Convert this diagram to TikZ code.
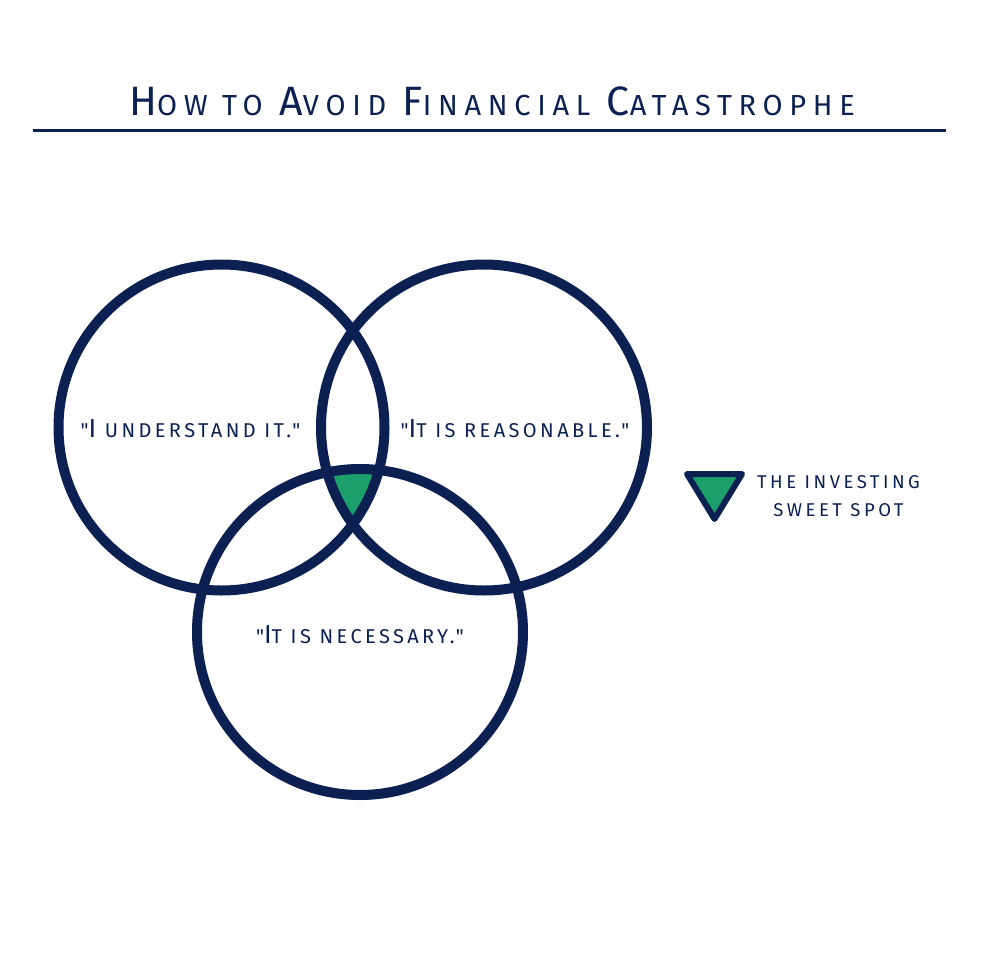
\documentclass[tikz,border=0pt]{standalone}
\usepackage{fontspec}
\setmainfont{Fira Sans}[Ligatures=TeXOff]
\definecolor{navy}{RGB}{12,33,82}
\definecolor{sweetgreen}{RGB}{27,160,107}
\newcommand\titlesc[1]{{\fontsize{29}{30}\selectfont\addfontfeatures{LetterSpace=23}\uppercase{#1}}}
\newcommand\labelsc[1]{{\fontsize{20}{22}\selectfont\addfontfeatures{LetterSpace=17}\uppercase{#1}}}
\newcommand\qt{\symbol{34}}
\begin{document}
\begin{tikzpicture}[x=1pt,y=-1pt,
  ring/.style={draw=navy,line width=10pt},
  circlabel/.style={text=navy,font=\fontsize{26}{28}\selectfont\addfontfeatures{LetterSpace=14},inner sep=0pt,anchor=base},
  legendtext/.style={text=navy,align=center,inner sep=0pt,font=\fontsize{18.5}{28}\selectfont\addfontfeatures{LetterSpace=19}}]
\useasboundingbox[fill=white] (0,0) rectangle (980,980);
% title and rule
\node[text=navy,inner sep=0pt,anchor=base] (title) at (492,115) {\fontsize{41}{41}\selectfont\addfontfeatures{LetterSpace=14}H\titlesc{ow to} A\titlesc{void} F\titlesc{inancial} C\titlesc{atastrophe}};
\coordinate (rulel) at (33,130);\coordinate (ruler) at (946,130);
\draw[navy,line width=3pt] (rulel)--(ruler);
% venn
\coordinate (cl) at (221.5,427.5);\coordinate (cr) at (484,427.5);\coordinate (cb) at (360,632);
\begin{scope}
\clip (cl) circle[radius=163pt];\clip (cr) circle[radius=163pt];
\fill[sweetgreen] (cb) circle[radius=163pt];
\end{scope}
\draw[ring] (cl) circle[radius=163pt];
\draw[ring] (cr) circle[radius=163pt];
\draw[ring] (cb) circle[radius=163pt];
\node[circlabel] (understand) at (190.5,437) {\labelsc{\qt}I\labelsc{ understand it.\qt}};
\node[circlabel] (reasonable) at (515,437) {\labelsc{\qt}I\labelsc{t is reasonable.\qt}};
\node[circlabel] (necessary) at (360,643) {\labelsc{\qt}I\labelsc{t is necessary.\qt}};
% legend
\draw[navy,fill=sweetgreen,line width=6pt,line join=round] (687,474)--(742,474)--(714.5,519)--cycle;
\node[legendtext] (sweetspot) at (838.5,496) {THE INVESTING\\SWEET SPOT};
\end{tikzpicture}
\end{document}
